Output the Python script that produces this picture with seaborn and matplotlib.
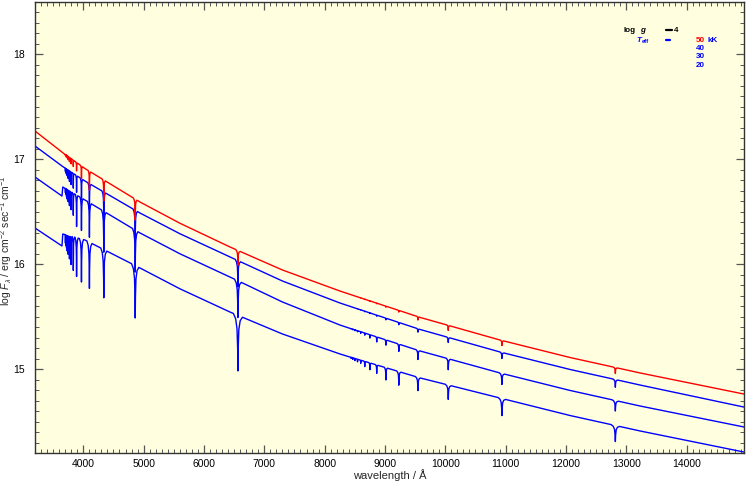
import numpy as np
import pandas as pd
import matplotlib
matplotlib.use("Agg")
import matplotlib.pyplot as plt
import seaborn as sns
from matplotlib.lines import Line2D
from matplotlib.ticker import MultipleLocator

# ---------------- data ----------------
teff_kK = [50, 40, 30, 20]
log_g = 4

# continuum anchor wavelengths (Angstrom) and log F_lambda per model
cont_wave = [3200, 3647, 3660, 4028, 4940, 5600, 6432, 7300, 8255, 9580, 10907, 12070, 13228, 14950]
cont_50 = [17.270, 17.070, 17.064, 16.912, 16.593, 16.391, 16.164, 15.945, 15.744, 15.493, 15.277, 15.110, 14.963, 14.762]
cont_40 = [17.127, 16.936, 16.931, 16.793, 16.488, 16.291, 16.069, 15.840, 15.630, 15.378, 15.163, 14.996, 14.848, 14.638]
cont_30 = [16.831, 16.650, 16.736, 16.612, 16.298, 16.100, 15.878, 15.640, 15.420, 15.173, 14.963, 14.796, 14.648, 14.448]
cont_20 = [16.345, 16.174, 16.288, 16.231, 15.964, 15.766, 15.544, 15.335, 15.144, 14.916, 14.724, 14.557, 14.410, 14.209]

# hydrogen line centres (Angstrom)
balmer_wave = [6563, 4861, 4340, 4102, 3970, 3889, 3835, 3798, 3771, 3750, 3734, 3722, 3712, 3704]
paschen_wave = [12818, 10938, 10049, 9546, 9229, 9015, 8863, 8750, 8665, 8598, 8545, 8502, 8467, 8438]

# line depths (dex below continuum)
balmer_depth_50 = [0.14, 0.20, 0.20, 0.18, 0.12, 0.08, 0.06, 0.05, 0.04, 0.03, 0.02, 0.02, 0.01, 0.01]
balmer_depth_40 = [0.25, 0.30, 0.27, 0.24, 0.20, 0.16, 0.14, 0.12, 0.10, 0.08, 0.06, 0.05, 0.04, 0.03]
balmer_depth_30 = [0.35, 0.40, 0.39, 0.33, 0.31, 0.30, 0.21, 0.17, 0.14, 0.11, 0.09, 0.07, 0.05, 0.04]
balmer_depth_20 = [0.53, 0.50, 0.46, 0.44, 0.41, 0.37, 0.32, 0.27, 0.22, 0.18, 0.15, 0.12, 0.10, 0.08]
paschen_depth_50 = [0.057, 0.048, 0.048, 0.032, 0.016, 0.010, 0.006, 0.004, 0.003, 0.002, 0.0, 0.0, 0.0, 0.0]
paschen_depth_40 = [0.073, 0.057, 0.048, 0.032, 0.022, 0.016, 0.010, 0.007, 0.005, 0.003, 0.002, 0.001, 0.001, 0.001]
paschen_depth_30 = [0.100, 0.105, 0.105, 0.088, 0.070, 0.050, 0.048, 0.032, 0.020, 0.015, 0.010, 0.008, 0.006, 0.004]
paschen_depth_20 = [0.153, 0.163, 0.137, 0.127, 0.130, 0.117, 0.080, 0.065, 0.050, 0.030, 0.025, 0.020, 0.015, 0.010]

# line half-widths to the shoulder (Angstrom) at 20 kK and relative width per model
balmer_width = [75, 60, 50, 42, 34, 26, 20, 16, 13, 10, 8, 6, 5, 4]
paschen_width = [70, 60, 50, 42, 35, 28, 22, 18, 15, 12, 10, 8, 7, 6]
width_scale = [0.5, 0.6, 0.75, 1.0]

cont = [cont_50, cont_40, cont_30, cont_20]
bdep = [balmer_depth_50, balmer_depth_40, balmer_depth_30, balmer_depth_20]
pdep = [paschen_depth_50, paschen_depth_40, paschen_depth_30, paschen_depth_20]

# profile vertices of one absorption line (offset in half-widths, fraction of depth)
prof_u = [-1.0, -0.5, -0.2, -0.06, 0.0, 0.06, 0.2, 0.5, 1.0]
prof_f = [0.0, 0.08, 0.25, 0.6, 1.0, 0.6, 0.25, 0.08, 0.0]

frames = []
for k, t in enumerate(teff_kK):
    centres = balmer_wave + paschen_wave
    depths = bdep[k] + pdep[k]
    widths = [w * width_scale[k] for w in balmer_width + paschen_width]
    verts = set(cont_wave)
    for c, w in zip(centres, widths):
        for u in prof_u:
            verts.add(c + u * w)
    wl = np.array(sorted(verts))
    val = np.interp(wl, cont_wave, cont[k])
    for c, w, d in zip(centres, widths, depths):
        val = val - d * np.interp((wl - c) / w, prof_u, prof_f, left=0.0, right=0.0)
    frames.append(pd.DataFrame({"wavelength": wl, "logF": val, "model": str(t)}))
df = pd.concat(frames, ignore_index=True)

# ---------------- drawing ----------------
sns.set_theme(style="ticks")
plt.rcParams["font.family"] = ["Liberation Sans", "DejaVu Sans"]
plt.rcParams["mathtext.fontset"] = "custom"
plt.rcParams["mathtext.rm"] = "Liberation Sans"
plt.rcParams["mathtext.it"] = "Liberation Sans:italic"
plt.rcParams["mathtext.bf"] = "Liberation Sans:bold"

W, H = 746, 484
fig = plt.figure(figsize=(W / 100, H / 100), dpi=100)
fig.patch.set_facecolor("white")
ax = fig.add_axes([35 / W, 31 / H, 709 / W, 451 / H])
ax.set_facecolor("#ffffe0")

palette = {"50": "#ff0000", "40": "#0000ff", "30": "#0000ff", "20": "#0000ff"}
sns.lineplot(data=df, x="wavelength", y="logF", hue="model",
             hue_order=["20", "30", "40", "50"], palette=palette,
             estimator=None, sort=False, lw=1.0, legend=False, ax=ax)

ax.set_xlim(3200, 14950)
ax.set_ylim(14.2, 18.5)
ax.xaxis.set_major_locator(MultipleLocator(1000))
ax.xaxis.set_minor_locator(MultipleLocator(100))
ax.yaxis.set_major_locator(MultipleLocator(1))
ax.yaxis.set_minor_locator(MultipleLocator(0.1))
ax.tick_params(which="both", direction="in", top=True, right=True,
               color="#555555", labelcolor="black", labelsize=7.5)
ax.tick_params(which="major", length=6, width=0.9)
ax.tick_params(which="minor", length=3, width=0.7)
ax.tick_params(axis="x", which="major", pad=4)
ax.tick_params(axis="y", which="major", pad=7)
for s in ax.spines.values():
    s.set_color("#333333")
    s.set_linewidth(1.0)

ax.set_xlabel("wavelength / Å", fontsize=8)
ax.xaxis.set_label_coords(0.5, -0.036)
ax.set_ylabel(r"log $F_{\lambda}$ / erg cm$^{-2}$ sec$^{-1}$ cm$^{-1}$", fontsize=7.5)
ax.yaxis.set_label_coords(-0.029, 0.47)


def fx(px):
    return px / W


def fy(py):
    return 1 - py / H


lg = dict(fontsize=5.8, fontweight="bold", va="center", ha="left")
fig.text(fx(623), fy(30), "log", color="black", **lg)
fig.text(fx(640), fy(30), "g", color="black", style="italic", **lg)
fig.add_artist(Line2D([fx(666), fx(672)], [fy(30), fy(30)], color="black", lw=1.6))
fig.text(fx(674), fy(30), str(log_g), color="black", **lg)
fig.text(fx(636), fy(40), "T", color="#0000ff", style="italic", **lg)
fig.text(fx(641.5), fy(41.5), "eff", color="#0000ff", fontsize=4.2, fontweight="bold", va="center", ha="left")
fig.add_artist(Line2D([fx(666), fx(670)], [fy(40), fy(40)], color="#0000ff", lw=1.6))
label_y = [40, 48.5, 57, 65.5]
for t, yy in zip(teff_kK, label_y):
    fig.text(fx(696), fy(yy), str(t), color=palette[str(t)], **lg)
fig.text(fx(708), fy(40), "kK", color="#0000ff", **lg)

fig.savefig("out.png", dpi=100)
